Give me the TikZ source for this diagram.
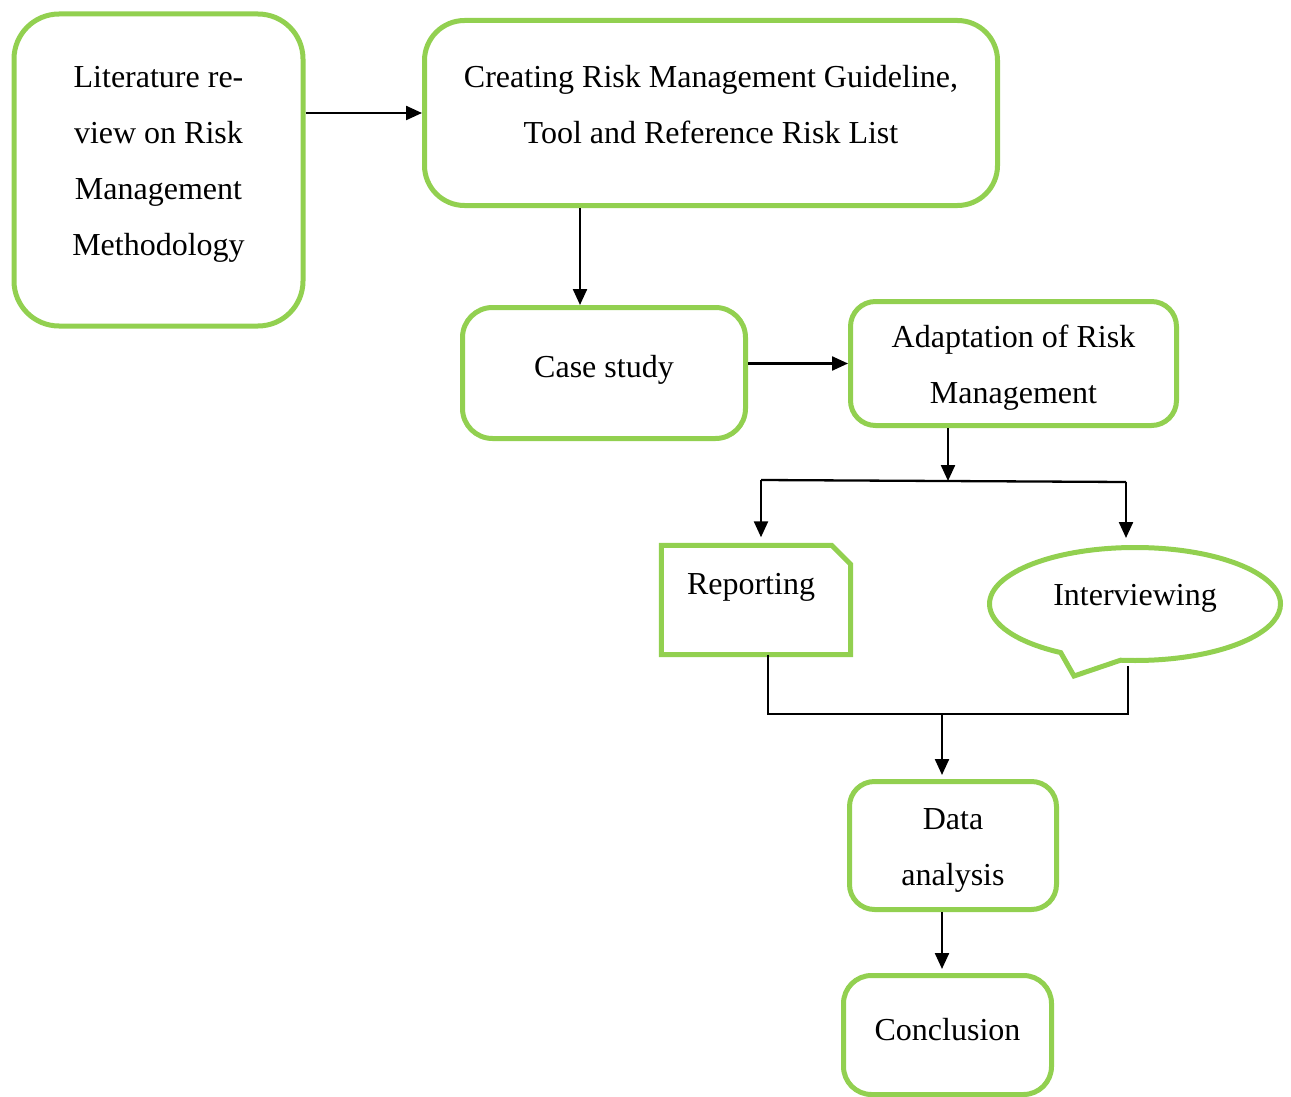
\documentclass[tikz,border=0pt]{standalone}
\usepackage{fontspec}
\setmainfont{Liberation Serif}
\usetikzlibrary{arrows.meta,shapes.callouts}
\definecolor{grn}{RGB}{146,208,80}
\begin{document}
\begin{tikzpicture}[x=1pt,y=-1pt,
  txt/.style={font=\fontsize{32}{56}\selectfont, align=center, inner sep=0pt},
  box/.style={txt, draw=grn, line width=5pt, rounded corners=#1},
  box/.default=30pt,
  gline/.style={draw=grn, line width=5pt, line join=miter},
  arr/.style={-{Triangle[length=16pt,width=14pt]}, line width=2.3pt},
  conn/.style={line width=2.3pt}]
\useasboundingbox (0,0) rectangle (1291,1097);

\node[box=45pt, minimum width=289pt, minimum height=312pt] (lit) at (158.5,170) {};
\node[txt] (littxt) at (158.5,164)
  {Literature re-\\view on Risk\\Management\\Methodology};
\node[box=40pt, minimum width=573pt, minimum height=185pt] (create) at (711,113) {};
\node[txt] (createtxt) at (711,105)
  {Creating Risk Management Guideline,\\Tool and Reference Risk List};
\node[box=30pt, minimum width=283pt, minimum height=131pt] (case) at (604,373) {};
\node[txt] (casetxt) at (604,370) {Case study};
\node[box=25pt, minimum width=326pt, minimum height=124pt] (adapt) at (1013.5,363.5) {};
\node[txt] (adapttxt) at (1013.5,367.5) {Adaptation of Risk\\Management};
\node[minimum width=189pt, minimum height=109pt, inner sep=0pt] (report) at (756,600) {};
\draw[gline] (report.south west) -- (report.north west) -- ([xshift=-19pt]report.north east)
  -- ([yshift=-19pt]report.north east) -- (report.south east) -- cycle;
\node[txt, text height=22pt, text depth=34pt] (reporttxt) at (751,600) {Reporting};
\node[txt, ellipse callout, draw=grn, line width=5pt, minimum width=291pt, minimum height=113pt,
  text height=22pt, text depth=20pt,
  callout absolute pointer={(1074,676)}, callout pointer arc=25] (intv) at (1135,604)
  {Interviewing};
\node[box=25pt, minimum width=207pt, minimum height=128pt] (data) at (953,845.5) {};
\node[txt] (datatxt) at (953,850) {Data\\analysis};
\node[box=28pt, minimum width=208pt, minimum height=119pt, text height=22pt, text depth=12pt] (concl) at (947.5,1035)
  {Conclusion};

\coordinate (split) at (948,481);
\coordinate (bl) at (761,480);
\coordinate (br) at (1126,482);
\coordinate (jl) at (768,714);
\coordinate (jr) at (1128,714);
\coordinate (jm) at (942,714);

\draw[arr] (lit.east |- create.west) -- (create.west);
\draw[arr] (create.south -| 580,0) -- (case.north -| 580,0);
\draw[arr] (case.east |- adapt.west) -- (adapt.west);
\draw[arr] (adapt.south -| split) -- (split);
\draw[conn] (bl) -- (br);
\draw[arr, shorten >=8pt] (bl) -- (bl |- report.north);
\draw[arr, shorten >=7pt] (br) -- (br |- intv.north);
\draw[conn] (report.south -| jl) -- (jl) -- (jr) -- ([yshift=-3pt]jr |- intv.south);
\draw[arr, shorten >=4pt] (jm) -- (jm |- data.north);
\draw[arr, shorten >=4pt] (data.south -| jm) -- (jm |- concl.north);
\end{tikzpicture}
\end{document}
